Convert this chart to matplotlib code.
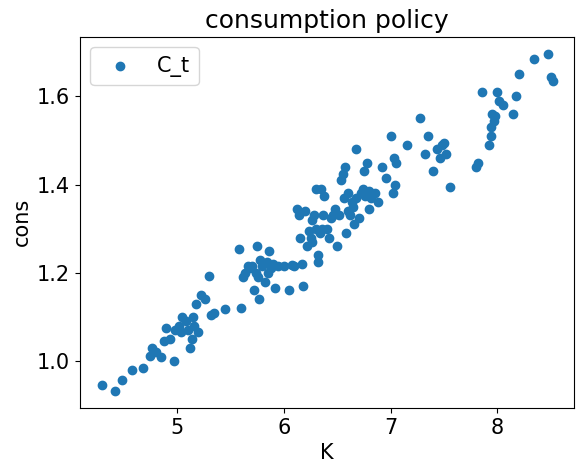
import matplotlib
matplotlib.use("Agg")
import matplotlib.pyplot as plt

K = [4.30,4.42,4.48,4.58,4.68,4.75,4.76,4.80,4.85,4.88,4.90,4.93,4.97,4.98,5.02,5.05,5.04,5.08,5.10,5.12,5.14,5.15,5.16,5.18,5.20,5.22,5.26,5.30,5.32,5.35,5.45,5.58,5.60,5.62,5.64,5.66,5.70,5.72,5.74,5.75,5.76,5.77,5.78,5.80,5.82,5.84,5.86,5.88,5.90,5.92,5.95,6.00,6.05,6.08,6.10,6.12,6.14,6.15,6.17,6.18,6.20,6.22,6.24,6.25,6.26,6.28,6.30,6.30,6.32,6.32,6.34,6.35,6.37,6.38,6.40,6.42,6.44,6.46,6.48,6.50,6.52,6.54,6.55,6.56,6.57,6.58,6.60,6.60,6.62,6.64,6.65,6.66,6.68,6.68,6.70,6.72,6.74,6.75,6.76,6.78,6.80,6.80,6.82,6.85,6.88,6.92,6.96,7.00,7.02,7.03,7.04,7.05,7.15,7.28,7.32,7.35,7.40,7.44,7.46,7.48,7.50,7.52,7.56,7.80,7.82,7.86,7.92,7.94,7.95,7.97,7.98,8.00,8.02,8.05,8.15,8.18,8.20,8.34,8.48,8.50,8.52,7.94,6.26,6.36,5.68,5.85]
C = [0.945,0.932,0.958,0.98,0.985,1.012,1.03,1.02,1.01,1.045,1.075,1.05,1.0,1.07,1.08,1.10,1.065,1.09,1.07,1.03,1.05,1.10,1.08,1.13,1.065,1.15,1.14,1.193,1.105,1.11,1.118,1.253,1.12,1.19,1.20,1.215,1.215,1.16,1.20,1.26,1.19,1.14,1.23,1.215,1.18,1.225,1.25,1.21,1.22,1.165,1.215,1.215,1.16,1.218,1.215,1.345,1.33,1.28,1.22,1.17,1.34,1.26,1.295,1.28,1.32,1.33,1.39,1.30,1.24,1.225,1.29,1.39,1.33,1.375,1.30,1.28,1.325,1.33,1.345,1.26,1.33,1.41,1.425,1.37,1.44,1.29,1.34,1.38,1.33,1.36,1.35,1.31,1.37,1.48,1.325,1.38,1.39,1.43,1.375,1.45,1.385,1.345,1.37,1.38,1.36,1.44,1.415,1.51,1.38,1.46,1.40,1.45,1.49,1.55,1.47,1.51,1.43,1.48,1.46,1.49,1.495,1.47,1.395,1.44,1.45,1.61,1.49,1.53,1.56,1.545,1.555,1.61,1.59,1.58,1.56,1.60,1.65,1.685,1.695,1.645,1.635,1.51,1.27,1.30,1.21,1.20]

plt.rcParams['font.size'] = 15
fig, ax = plt.subplots(figsize=(5.84, 4.72), dpi=100)
ax.scatter(K, C, label="C_t", color="#1f77b4")
ax.set_title("consumption policy", fontsize=18)
ax.set_xlabel("K")
ax.set_ylabel("cons")
ax.set_xlim(4.09, 8.72)
ax.set_ylim(0.894, 1.735)
ax.set_yticks([1.0, 1.2, 1.4, 1.6])
ax.legend(loc="upper left")
fig.subplots_adjust(left=0.137, right=0.983, top=0.922, bottom=0.136)
fig.savefig("out.png")
